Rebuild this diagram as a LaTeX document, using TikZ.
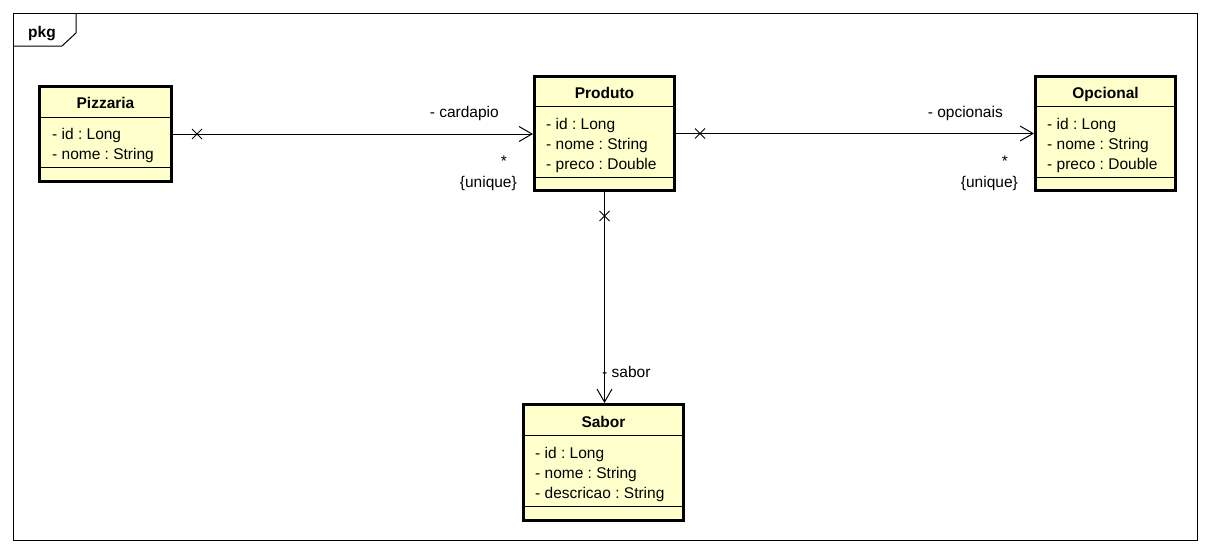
\documentclass[tikz,border=0pt]{standalone}
\usepackage{fontspec}
\setmainfont{Liberation Sans}
\usetikzlibrary{arrows.meta}
\definecolor{classfill}{RGB}{255,255,204}
\newcommand{\fs}{\fontsize{15.5}{18}\selectfont\frenchspacing}

\begin{document}
\begin{tikzpicture}[x=1pt,y=-1pt,
   classbox/.style={draw=black,line width=3pt,fill=classfill,anchor=north west,inner sep=0pt},
   txt/.style={font=\fs,inner sep=0pt,anchor=base west},
   head/.style={font=\fs\bfseries,inner sep=0pt,anchor=base},
   lbl/.style={font=\fs,inner sep=0pt,anchor=base east},
   assoc/.style={draw=black,line width=1pt,-{Straight Barb[length=13pt,width=15pt,line width=1pt]}},
   cross/.style={draw=black,line width=1pt}]
   \useasboundingbox (0,0) rectangle (1210,554);
   % package frame
   \draw[line width=1pt] (13,13) rectangle (1197,540);
   \draw[line width=1pt] (13,46) -- (62,46) -- (76,33) -- (76,13);
   \node[txt,font=\fs\bfseries] (pkg) at (28,37) {pkg};

   % classes
   \node[classbox,minimum width=132pt,minimum height=95pt] (pizzaria) at (38,85) {};
   \node[classbox,minimum width=140pt,minimum height=114pt] (produto) at (533,75) {};
   \node[classbox,minimum width=140pt,minimum height=114pt] (opcional) at (1034,75) {};
   \node[classbox,minimum width=160pt,minimum height=116pt] (sabor) at (522,403) {};

   % compartments
   \draw[line width=1pt] (pizzaria.west |- 0,117) -- (pizzaria.east |- 0,117);
   \draw[line width=1pt] (pizzaria.west |- 0,167) -- (pizzaria.east |- 0,167);
   \draw[line width=1pt] (produto.west |- 0,106) -- (produto.east |- 0,106);
   \draw[line width=1pt] (produto.west |- 0,177) -- (produto.east |- 0,177);
   \draw[line width=1pt] (opcional.west |- 0,106) -- (opcional.east |- 0,106);
   \draw[line width=1pt] (opcional.west |- 0,177) -- (opcional.east |- 0,177);
   \draw[line width=1pt] (sabor.west |- 0,435) -- (sabor.east |- 0,435);
   \draw[line width=1pt] (sabor.west |- 0,506) -- (sabor.east |- 0,506);

   % Pizzaria
   \node[head] (pizzaria-name) at (pizzaria.center |- 0,108) {Pizzaria};
   \node[txt] (pizzaria-id) at (52,139) {- id : Long};
   \node[txt] (pizzaria-nome) at (52,159) {- nome : String};
   % Produto
   \node[head] (produto-name) at (produto.center |- 0,98) {Produto};
   \node[txt] (produto-id) at (546,129) {- id : Long};
   \node[txt] (produto-nome) at (546,149) {- nome : String};
   \node[txt] (produto-preco) at (546,169) {- preco : Double};
   % Opcional
   \node[head] (opcional-name) at (opcional.center |- 0,98) {Opcional};
   \node[txt] (opcional-id) at (1047,129) {- id : Long};
   \node[txt] (opcional-nome) at (1047,149) {- nome : String};
   \node[txt] (opcional-preco) at (1047,169) {- preco : Double};
   % Sabor
   \node[head] (sabor-name) at (sabor.center |- 0,427) {Sabor};
   \node[txt] (sabor-id) at (535,458) {- id : Long};
   \node[txt] (sabor-nome) at (535,478) {- nome : String};
   \node[txt] (sabor-descricao) at (535,498) {- descricao : String};

   % associations
   \draw[assoc] (pizzaria.east) -- (produto.west |- pizzaria.east);
   \draw[assoc] (produto.east) -- (opcional.west |- produto.east);
   \draw[assoc] (produto.south) -- (sabor.north -| produto.south);
   \draw[cross] ([xshift=24pt]pizzaria.east) +(-5,-5) -- +(5,5) +(-5,5) -- +(5,-5);
   \draw[cross] ([xshift=24pt]produto.east) +(-5,-5) -- +(5,5) +(-5,5) -- +(5,-5);
   \draw[cross] ([yshift=-24pt]produto.south) +(-5,-5) -- +(5,5) +(-5,5) -- +(5,-5);

   % role labels
   \node[lbl] (cardapio) at (499,117) {- cardapio};
   \node[lbl] (cardapio-mult) at (507,166) {*};
   \node[lbl] (cardapio-unique) at (517,187) {\{unique\}};
   \node[lbl] (opcionais) at (1003,117) {- opcionais};
   \node[lbl] (opcionais-mult) at (1008,166) {*};
   \node[lbl] (opcionais-unique) at (1018,187) {\{unique\}};
   \node[txt] (sabor-role) at (602,377) {- sabor};
\end{tikzpicture}
\end{document}
